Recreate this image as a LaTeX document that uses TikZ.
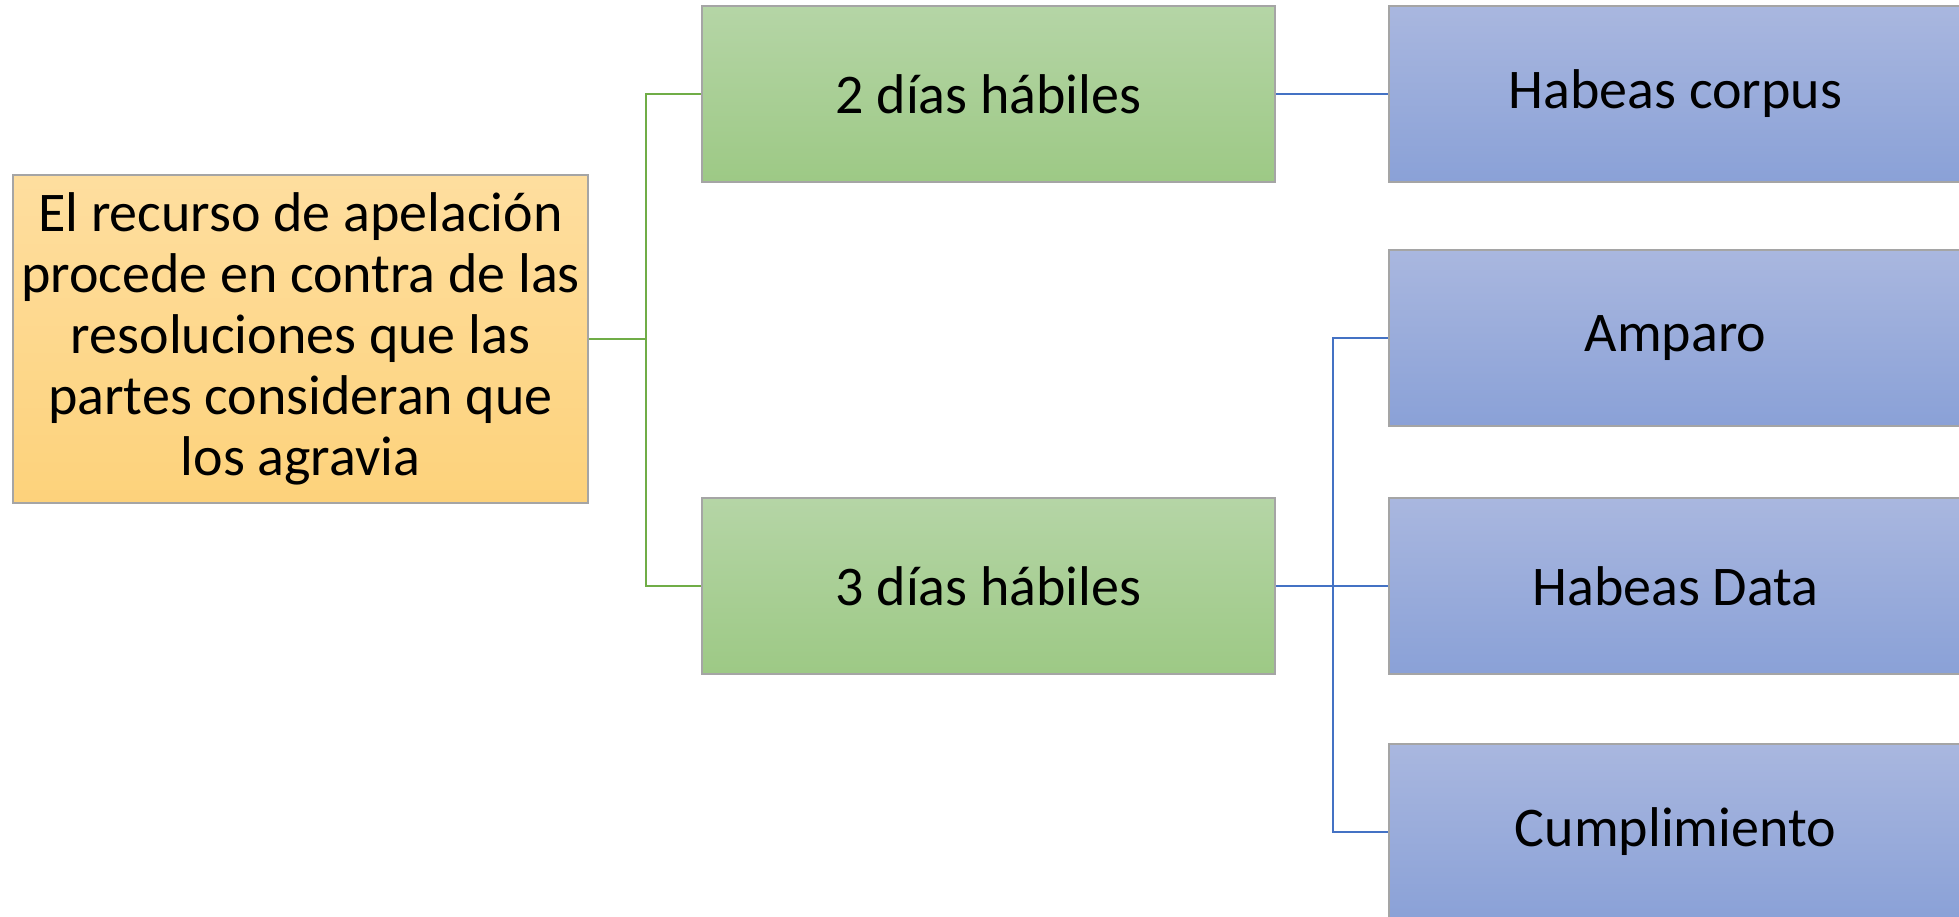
\documentclass[tikz,border=0pt]{standalone}
\usepackage{fontspec}
\setmainfont{Carlito}
\usepackage{tikz}
\definecolor{orangetop}{HTML}{FEDE9F}
\definecolor{orangebot}{HTML}{FDD27B}
\definecolor{greentop}{HTML}{B5D5A6}
\definecolor{greenbot}{HTML}{9DC985}
\definecolor{bluetop}{HTML}{A9B7DF}
\definecolor{bluebot}{HTML}{8AA1D7}
\definecolor{boxline}{HTML}{A5A5A5}
\definecolor{greenline}{HTML}{70AD47}
\definecolor{blueline}{HTML}{4472C4}
\tikzstyle{caja}=[rectangle, draw=boxline, line width=1pt, inner sep=0pt, align=center, font=\fontsize{28}{30.5}\selectfont]
\tikzstyle{recurso}=[caja, top color=orangetop, bottom color=orangebot, minimum width=287.5pt, minimum height=164pt]
\tikzstyle{plazo}=[caja, top color=greentop, bottom color=greenbot, minimum width=286.5pt, minimum height=88pt]
\tikzstyle{proceso}=[caja, top color=bluetop, bottom color=bluebot, minimum width=286.5pt, minimum height=88pt]

\begin{document}
\begin{tikzpicture}[x=0.5pt, y=-0.5pt]
                \useasboundingbox (0, 0) rectangle (1959, 916);
                \node[recurso] (r) at (300.5, 339) {El recurso de apelación\\procede en contra de las\\resoluciones que las\\partes consideran que\\los agravia};
                \node[plazo] (p2) at (988.5, 94) {2 días hábiles};
                \node[plazo] (p3) at (988.5, 586) {3 días hábiles};
                \node[proceso] (hc) at (1675.5, 94) {Habeas corpus};
                \node[proceso] (am) at (1675.5, 338) {Amparo};
                \node[proceso] (hd) at (1675.5, 586) {Habeas Data};
                \node[proceso] (cu) at (1675.5, 832) {Cumplimiento};
                \coordinate (jg) at (646, 339);
                \coordinate (jb) at (1333, 586);
                \draw[greenline, line width=1.2pt] (r.east)--(jg);
                \draw[greenline, line width=1.2pt] (jg) |- (p2.west);
                \draw[greenline, line width=1.2pt] (jg) |- (p3.west);
                \draw[blueline, line width=1.2pt] (p2.east)--(hc.west);
                \draw[blueline, line width=1.2pt] (p3.east)--(jb);
                \draw[blueline, line width=1.2pt] (jb) |- (am.west);
                \draw[blueline, line width=1.2pt] (jb)--(hd.west);
                \draw[blueline, line width=1.2pt] (jb) |- (cu.west);
            \end{tikzpicture}
\end{document}
